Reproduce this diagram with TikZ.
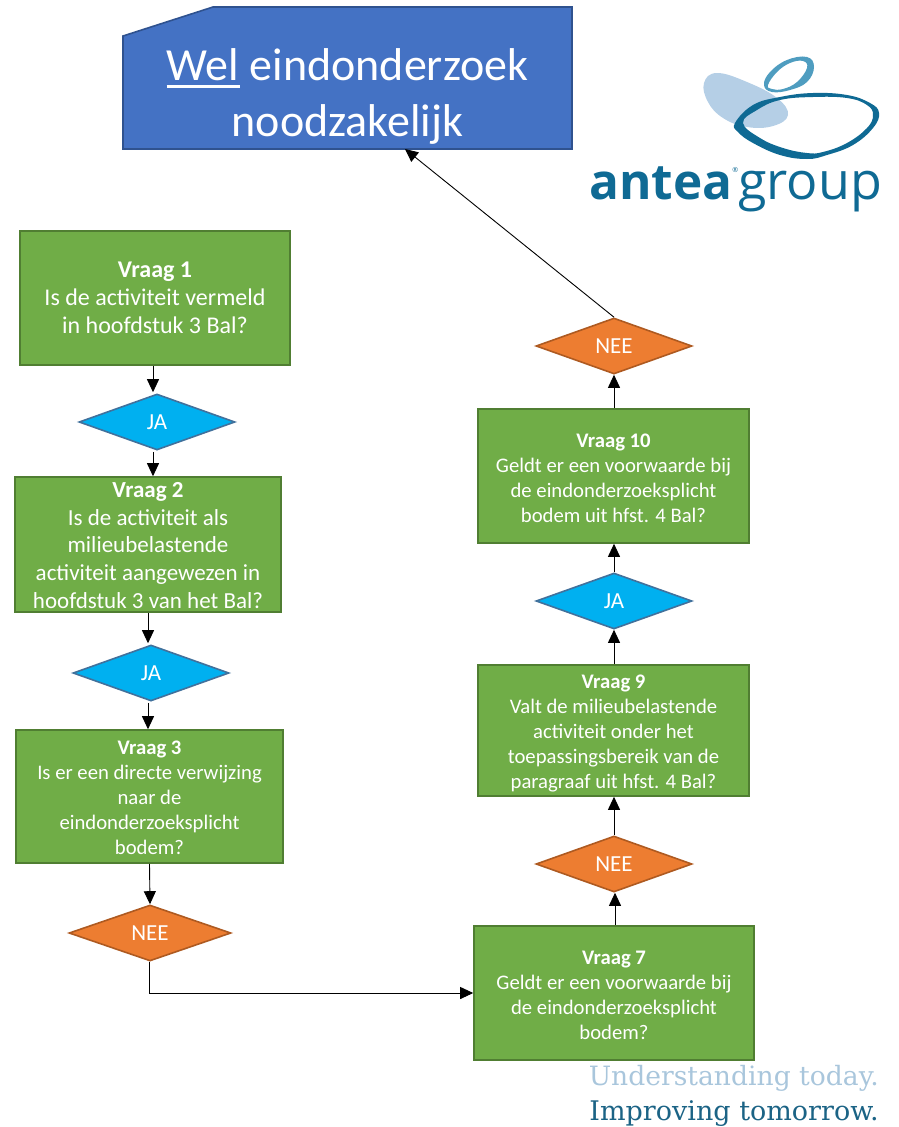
\documentclass[tikz,border=0pt]{standalone}
\usepackage{fontspec}
\setmainfont{Carlito}
\newfontfamily\logofont{Open Sans}
\newfontfamily\slabfont{DejaVu Serif}
\usetikzlibrary{shapes.geometric,arrows.meta}
\definecolor{qgreen}{HTML}{70AD47}
\definecolor{qgreenb}{HTML}{507E32}
\definecolor{qblue}{HTML}{00B0F0}
\definecolor{qblueb}{HTML}{41719C}
\definecolor{qorange}{HTML}{ED7D31}
\definecolor{qorangeb}{HTML}{AE5A21}
\definecolor{tblue}{HTML}{4472C4}
\definecolor{tblueb}{HTML}{2F528F}
\definecolor{logodark}{HTML}{0F6A94}
\definecolor{logomid}{HTML}{4F9DC0}
\definecolor{logolight}{HTML}{B5CFE6}
\definecolor{slablight}{HTML}{A9C6DC}
\definecolor{slabdark}{HTML}{1B6385}
\newcommand{\lowerstrut}[1]{\rule{0pt}{#1pt}}
\tikzset{
 x=1pt,y=-1pt,
 vraagbox/.style={draw=qgreenb,fill=qgreen,line width=1.6pt,align=center,inner sep=0pt,text=white},
 largetext/.style={font=\fontsize{24}{28}\selectfont},
 midtext/.style={font=\fontsize{23}{27.6}\selectfont},
 smalltext/.style={font=\fontsize{20.7}{25}\selectfont},
 keuze/.style={diamond,aspect=2.8,inner sep=0pt,minimum width=156pt,minimum height=56pt,line width=1.6pt,text=white,font=\fontsize{23}{25}\selectfont},
 ja/.style={keuze,draw=qblueb,fill=qblue},
 nee/.style={keuze,draw=qorangeb,fill=qorange},
 conn/.style={draw=black,line width=0.9pt,-{Triangle[length=13pt,width=12pt]}},
}
\begin{document}
\begin{tikzpicture}
\useasboundingbox (0,0) rectangle (899,1127);
% title
\draw[fill=tblue,draw=tblueb,line width=1.6pt] (123,36) -- (213,7) -- (572,7) -- (572,149) -- (123,149) -- cycle;
\node[align=center,text=white,inner sep=0pt,font=\fontsize{46}{56}\selectfont] (titel) at (347.5,96.5) {\makebox[0pt][l]{\rule[-7.2pt]{73pt}{2.4pt}}Wel eindonderzoek\\noodzakelijk};
\coordinate (titelin) at (405,149);
% logo
\fill[logolight] plot[smooth cycle,tension=0.7] coordinates {(704,83)(717,73)(747,82)(777,98)(788,115)(773,126)(747,127)(723,118)(708,102)};
\fill[logomid,even odd rule] plot[smooth cycle,tension=0.7] coordinates {(764,85)(770,72)(787,60)(807,57)(814,67)(807,82)(790,90)(772,92)}
 plot[smooth cycle,tension=0.7] coordinates {(768,85)(777,72)(790,63)(803,61)(807,68)(797,82)(783,89)(772,89)};
\fill[logodark,even odd rule] plot[smooth cycle,tension=0.7] coordinates {(735,123)(753,105)(780,97)(813,93)(847,95)(870,103)(879,113)(873,128)(853,145)(827,155)(807,159)(780,155)(753,143)(738,132)}
 plot[smooth cycle,tension=0.7] coordinates {(743,123)(757,110)(780,100)(813,97)(847,98)(867,105)(873,115)(867,128)(847,143)(823,152)(807,153)(783,148)(760,138)};
\node[anchor=base west,inner sep=0pt,text=logodark,font=\logofont\fontsize{52}{52}\selectfont] (logo) at (589,199) {{\bfseries\fontsize{49.5}{50}\selectfont antea}\raisebox{27pt}{\fontsize{7}{7}\selectfont ®}group};
\node[anchor=base east,inner sep=0pt,text=slablight,font=\slabfont\fontsize{26.6}{26.6}\selectfont] (slogana) at (879,1085) {Understanding today.};
\node[anchor=base east,inner sep=0pt,text=slabdark,font=\slabfont\fontsize{27}{27}\selectfont] (sloganb) at (879,1120) {Improving tomorrow.};
% boxes
\node[vraagbox,largetext,minimum width=270pt,minimum height=134pt] (v1) at (155,298) {\textbf{Vraag 1}\\Is de activiteit vermeld\\in hoofdstuk 3 Bal?};
\node[vraagbox,midtext,minimum width=266pt,minimum height=135pt] (v2) at (148,544.5) {\lowerstrut{17}\textbf{Vraag 2}\\Is de activiteit als\\milieubelastende\\activiteit aangewezen in\\hoofdstuk 3 van het Bal?};
\node[vraagbox,smalltext,minimum width=267pt,minimum height=133pt] (v3) at (149.5,796.5) {\lowerstrut{16}\textbf{Vraag 3}\\Is er een directe verwijzing\\naar de\\eindonderzoeksplicht\\bodem?};
\node[vraagbox,smalltext,minimum width=280pt,minimum height=134pt] (v7) at (614,993) {\lowerstrut{18}\textbf{Vraag 7}\\Geldt er een voorwaarde bij\\de eindonderzoeksplicht\\bodem?};
\node[vraagbox,smalltext,minimum width=271pt,minimum height=131pt] (v9) at (613.5,730.5) {\lowerstrut{19}\textbf{Vraag 9}\\Valt de milieubelastende\\activiteit onder het\\toepassingsbereik van de\\paragraaf uit hfst. 4 Bal?};
\node[vraagbox,smalltext,minimum width=271pt,minimum height=134pt] (v10) at (613.5,476) {\lowerstrut{18}\textbf{Vraag 10}\\Geldt er een voorwaarde bij\\de eindonderzoeksplicht\\bodem uit hfst. 4 Bal?};
% diamonds
\node[ja] (j1) at (157,422) {JA};
\node[ja] (j2) at (151,673) {JA};
\node[nee,minimum width=162pt] (n3) at (150,933) {NEE};
\node[nee] (n7) at (614,864) {NEE};
\node[ja] (j9) at (614,601) {JA};
\node[nee] (n10) at (614,346) {NEE};
% connectors
\draw[conn] ([xshift=-2pt]v1.south) -- ([xshift=-4pt,yshift=1pt]j1.north);
\draw[conn] ([xshift=-4pt,yshift=-1pt]j1.south) -- ([xshift=5pt]v2.north);
\draw[conn] (v2.south) -- ([xshift=-3pt,yshift=1pt]j2.north);
\draw[conn] ([xshift=-3pt,yshift=-1pt]j2.south) -- ([xshift=-1.5pt]v3.north);
\draw[conn] (v3.south) -- (n3.north);
\draw[conn] ([xshift=-1pt]n3.south) -- ([xshift=-1pt]n3.south |- v7.west) -- (v7.west);
\draw[conn] ([xshift=1pt]v7.north) -- ([xshift=1pt]n7.south);
\draw[conn] (n7.north) -- ([xshift=.5pt]v9.south);
\draw[conn] ([xshift=.5pt]v9.north) -- (j9.south);
\draw[conn] (j9.north) -- ([xshift=.5pt]v10.south);
\draw[conn] ([xshift=.5pt]v10.north) -- (n10.south);
\draw[conn] (n10.north) -- (titelin);
\end{tikzpicture}
\end{document}
